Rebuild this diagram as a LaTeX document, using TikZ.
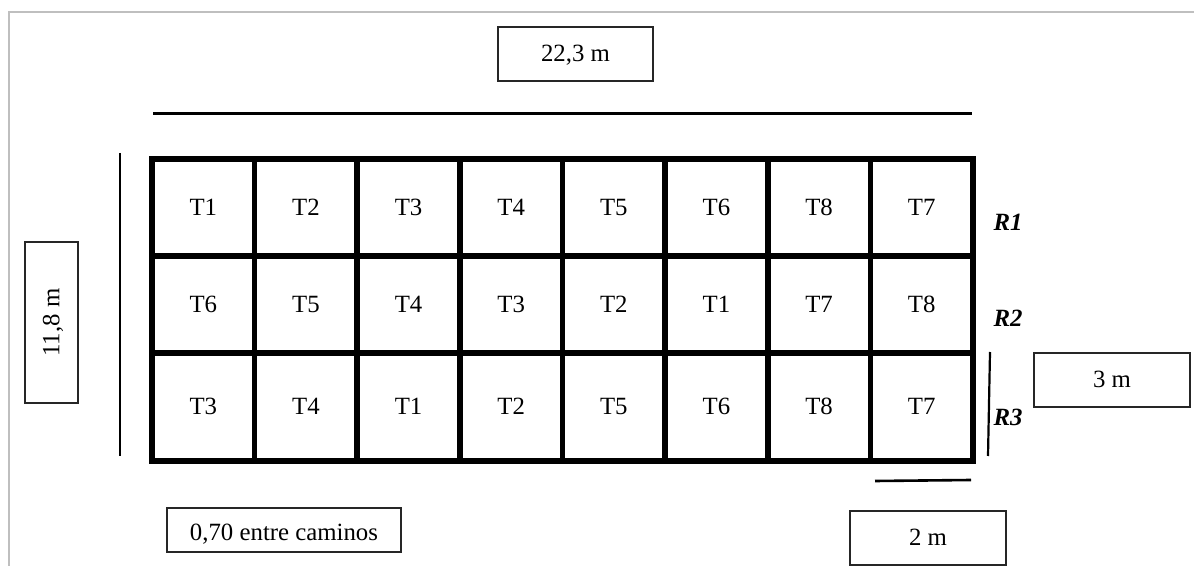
\documentclass[tikz,border=0pt]{standalone}
\usepackage{fontspec}
\setmainfont{Liberation Serif}
\begin{document}
\begin{tikzpicture}[x=0.5pt,y=-0.5pt,
  lbl/.style={font=\fontsize{12.4}{14}\selectfont, text height=8.2pt, text depth=0.4pt},
  cell/.style={draw, line width=2.8pt, minimum width=51.31pt, inner sep=0pt, lbl},
  dimbox/.style={draw=black!85, line width=0.6pt, inner sep=0pt, lbl},
  rlbl/.style={font=\fontsize{12.4}{14}\selectfont\bfseries\itshape},
  dimline/.style={line width=1.1pt}]
\useasboundingbox (0,0) rectangle (1194,566);
\draw[black!25, line width=0.9pt] (9,566) -- (9,12) -- (1194,12);
% grid
\foreach \t [count=\i] in {T1,T2,T3,T4,T5,T6,T8,T7}
  \node[cell, minimum height=48.5pt] (a\i) at ({152+102.625*(\i-0.5)},207.5) {\t};
\foreach \t [count=\i] in {T6,T5,T4,T3,T2,T1,T7,T8}
  \node[cell, minimum height=48.5pt] (b\i) at ({152+102.625*(\i-0.5)},304.5) {\t};
\foreach \t [count=\i] in {T3,T4,T1,T2,T5,T6,T8,T7}
  \node[cell, minimum height=54pt] (c\i) at ({152+102.625*(\i-0.5)},407) {\t};
% dimension lines
\coordinate (tl) at (153,114); \coordinate (tr) at (972,114);
\draw[line width=1.5pt] (tl) -- (tr);
\coordinate (lt) at (120,153); \coordinate (lb) at (120,456);
\draw[dimline] (lt) -- (lb);
\coordinate (rt) at (990,352); \coordinate (rb) at (988,456);
\draw[dimline] (rt) -- (rb);
\coordinate (bl) at (875,481); \coordinate (br) at (971,480);
\draw[line width=1.3pt] (bl) -- (br);
% boxes
\node[dimbox, minimum width=77.5pt, minimum height=27pt] (w) at (575.5,54) {22,3 m};
\node[dimbox, rotate=90, minimum width=80.5pt, minimum height=26.5pt] (h) at (51.5,322.5) {11,8 m};
\node[dimbox, minimum width=78pt, minimum height=27pt] (r) at (1112,380) {3 m};
\node[dimbox, minimum width=78pt, minimum height=27pt] (b) at (928,538) {2 m};
\node[dimbox, minimum width=117pt, minimum height=22pt] (p) at (284,530) {\raisebox{-1.5pt}{0,70 entre caminos}};
% row labels
\node[rlbl] (r1) at (1008,222) {R1};
\node[rlbl] (r2) at (1008,318) {R2};
\node[rlbl] (r3) at (1008,417) {R3};
\end{tikzpicture}
\end{document}
